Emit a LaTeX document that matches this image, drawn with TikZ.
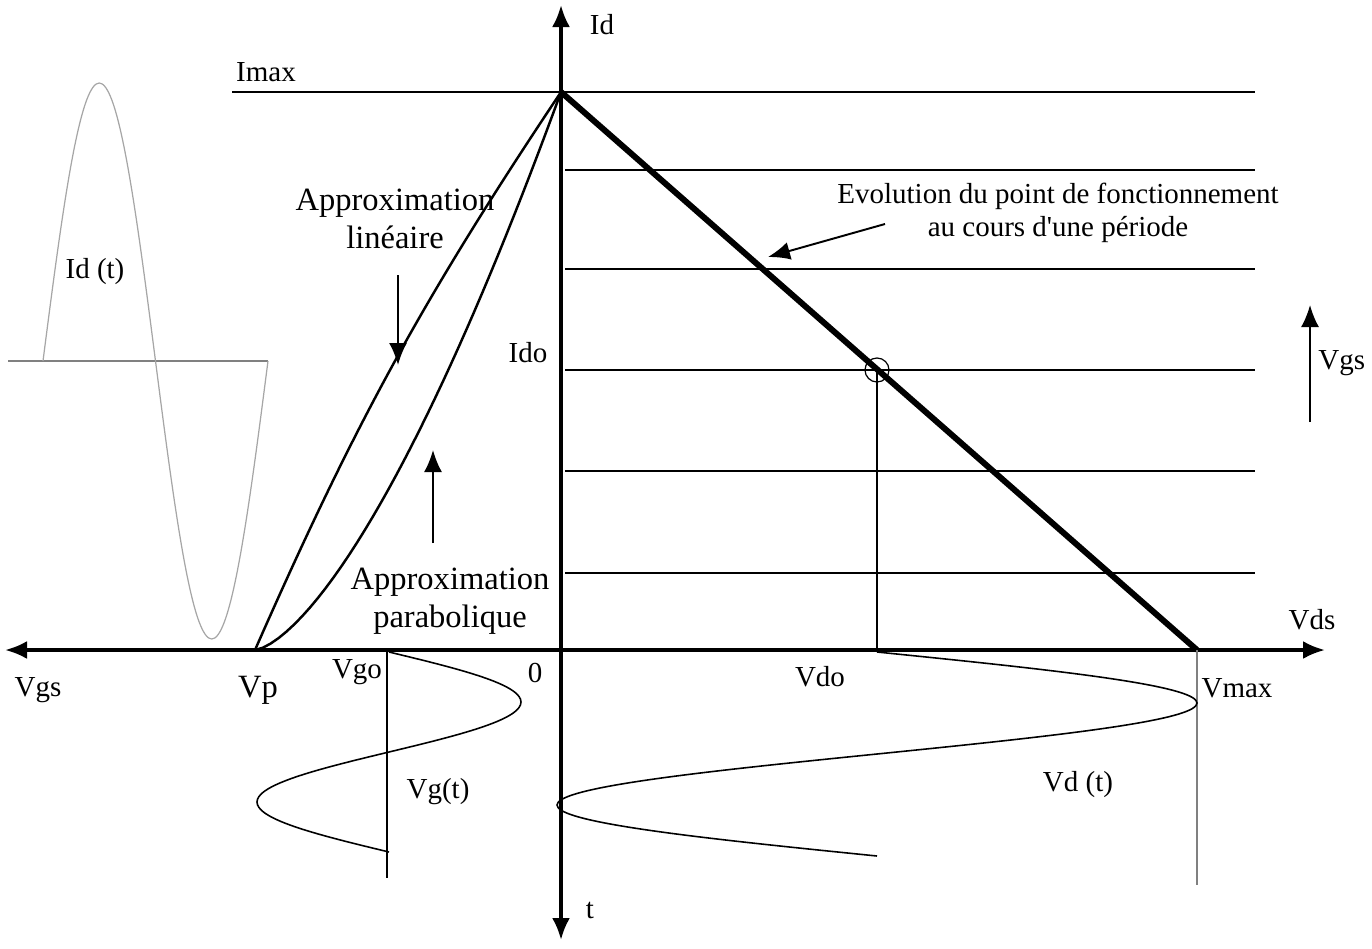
\documentclass[tikz,border=0pt]{standalone}
\usepackage{fontspec}
\setmainfont{Liberation Serif}
\usetikzlibrary{arrows.meta}

\begin{document}
\begin{tikzpicture}[x=0.2mm, y=-0.2mm, >={Latex[length=4.4mm,width=3.6mm]},
	lbl/.style={font=\fontsize{16.5}{18}\selectfont, inner sep=0pt},
	big/.style={font=\fontsize{18.5}{21.5}\selectfont, align=center, inner sep=0pt},
	axe/.style={line width=2pt}, grd/.style={line width=1.4pt},
	fin/.style={line width=0.7pt}, wave/.style={line width=0.9pt}]
	\useasboundingbox (0,0) rectangle (1372,948);
	% key points
	\coordinate (O) at (561,650); \coordinate (top) at (561,92);
	\coordinate (vp) at (255,650); \coordinate (vmax) at (1197,650);
	\coordinate (Q) at (877,370);
	\coordinate (xl) at (5,650); \coordinate (xr) at (1325,650);
	\coordinate (yt) at (561,5); \coordinate (yb) at (561,940);
	% axes and load line
	\draw[axe,<->] (xl) -- (xr);
	\draw[axe,<->] (yb) -- (yt);
	\draw[fin] (232,92) -- (1255,92);
	\foreach \y in {170,269,370,471,573} {\draw[grd] (565,\y) -- (1255,\y);}
	\draw[line width=3.4pt] (top) -- (vmax);
	\draw[fin] (Q) circle[radius=2.4mm];
	\draw[fin] (Q) -- (Q |- O);
	\draw[fin, gray] (vmax) -- (1197,885);
	% transfer characteristics
	\draw[grd] (vp) to[bend left=5] (top);
	\draw[grd] plot[domain=0:1, samples=40] ({255+306*\x},{650-558*\x*sqrt(\x)});
	% signals
	\draw[wave] plot[domain=0:360, samples=73, smooth] ({877+320*sin(\x)},{652+\x/360*204});
	\draw[line width=1.4pt] (387,650) -- (387,878);
	\draw[wave] plot[domain=0:360, samples=73, smooth] ({389+132*sin(\x)},{652+\x/360*200});
	\draw[fin, gray] (8,361) -- (268,361);
	\draw[fin, gray!70] plot[domain=0:360, samples=73, smooth] ({43+\x/360*225},{361-278*sin(\x)});
	% labels
	\node[lbl] (lId) at (602,25) {Id};
	\node[lbl] (lImax) at (266,72) {Imax};
	\node[lbl] (lIdo) at (528,353) {Ido};
	\node[lbl, anchor=west] (lVgsr) at (1318,363) {Vgs};
	\node[lbl] (lVds) at (1312,620) {Vds};
	\node[lbl] (lVgsl) at (38,690) {Vgs};
	\node[big] (lVp) at (258,690) {Vp};
	\node[lbl] (lVgo) at (357,672) {Vgo};
	\node[lbl] (lzero) at (535,673) {0};
	\node[lbl] (lVdo) at (820,677) {Vdo};
	\node[lbl] (lVmax) at (1237,688) {Vmax};
	\node[lbl] (lVg) at (438,792) {Vg(t)};
	\node[lbl] (lVd) at (1078,785) {Vd (t)};
	\node[lbl] (lt) at (590,910) {t};
	\node[lbl] (lIdt) at (95,272) {Id (t)};
	\node[big] (lin) at (395,219) {Approximation\\linéaire};
	\node[big] (par) at (450,601) {Approximation\\parabolique};
	\node[lbl, align=center, font=\fontsize{16.5}{19}\selectfont] (evo) at (1058,213) {Evolution du point de fonctionnement\\au cours d\textquotesingle une période};
	% pointers
	\coordinate (linS) at (398,275); \coordinate (linA) at (398,365);
	\coordinate (parS) at (433,543); \coordinate (parA) at (433,450);
	\coordinate (evoS) at (885,224); \coordinate (evoA) at (768,257);
	\coordinate (vgsS) at (1310,422); \coordinate (vgsA) at (1310,305);
	\foreach \s/\a in {linS/linA, parS/parA, evoS/evoA, vgsS/vgsA} {\draw[->, line width=1.1pt] (\s) -- (\a);}
\end{tikzpicture}
\end{document}
